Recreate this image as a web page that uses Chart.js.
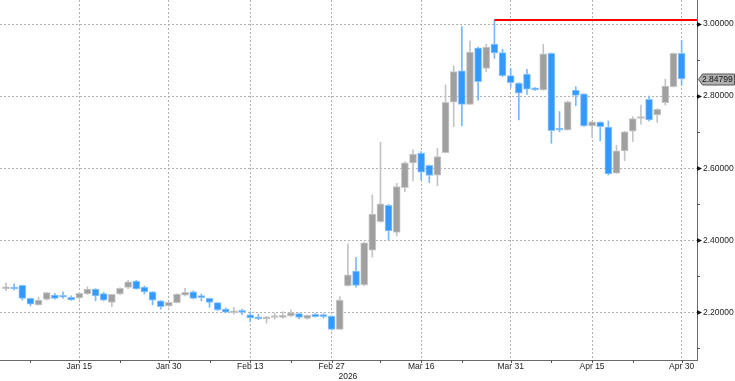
<!DOCTYPE html>
<html>
<head>
<meta charset="utf-8">
<script src="https://cdn.jsdelivr.net/npm/chart.js@4.4.1/dist/chart.umd.min.js"></script>
<style>
  html, body { margin: 0; padding: 0; background: #fff; }
  #wrap { width: 735px; height: 381px; }
</style>
</head>
<body>
<div id="wrap"><canvas id="chart"></canvas></div>
<script>
const dates = [
  'Jan 2','Jan 5','Jan 6','Jan 7','Jan 8','Jan 9','Jan 12','Jan 13','Jan 14','Jan 15','Jan 16',
  'Jan 19','Jan 20','Jan 21','Jan 22','Jan 23','Jan 26','Jan 27','Jan 28','Jan 29','Jan 30',
  'Feb 2','Feb 3','Feb 4','Feb 5','Feb 6','Feb 9','Feb 10','Feb 11','Feb 12','Feb 13',
  'Feb 16','Feb 17','Feb 18','Feb 19','Feb 20','Feb 23','Feb 24','Feb 25','Feb 26','Feb 27',
  'Mar 2','Mar 3','Mar 4','Mar 5','Mar 6','Mar 9','Mar 10','Mar 11','Mar 12','Mar 13',
  'Mar 16','Mar 17','Mar 18','Mar 19','Mar 20','Mar 23','Mar 24','Mar 25','Mar 26','Mar 27',
  'Mar 30','Mar 31','Apr 1','Apr 2','Apr 6','Apr 7','Apr 8','Apr 9','Apr 10','Apr 13',
  'Apr 14','Apr 15','Apr 16','Apr 17','Apr 20','Apr 21','Apr 22','Apr 23','Apr 24','Apr 27',
  'Apr 28','Apr 29','Apr 30'
];
const opens = [
  2.265,2.270,2.275,2.239,2.221,2.236,2.248,2.243,2.242,2.240,2.251,
  2.265,2.252,2.228,2.251,2.269,2.287,2.270,2.257,2.232,2.218,
  2.227,2.248,2.257,2.243,2.239,2.227,2.209,2.199,2.201,2.193,
  2.186,2.182,2.186,2.186,2.190,2.197,2.183,2.195,2.194,2.190,
  2.153,2.274,2.315,2.276,2.373,2.452,2.497,2.422,2.546,2.615,
  2.642,2.608,2.581,2.643,2.783,2.870,2.777,2.934,2.877,2.944,
  2.921,2.857,2.836,2.861,2.823,2.817,2.919,2.711,2.706,2.817,
  2.806,2.717,2.728,2.714,2.586,2.648,2.703,2.738,2.791,2.748,
  2.782,2.826,2.919
];
const highs = [
  2.282,2.279,2.276,2.240,2.242,2.256,2.253,2.257,2.246,2.255,2.271,
  2.266,2.256,2.251,2.268,2.290,2.289,2.273,2.258,2.233,2.229,
  2.252,2.267,2.260,2.251,2.240,2.228,2.212,2.214,2.209,2.202,
  2.195,2.189,2.198,2.202,2.207,2.198,2.193,2.197,2.197,2.191,
  2.244,2.390,2.353,2.395,2.526,2.672,2.500,2.558,2.618,2.651,
  2.646,2.609,2.655,2.831,2.884,2.993,2.953,2.936,2.944,3.011,
  2.930,2.877,2.837,2.874,2.824,2.944,2.920,2.757,2.787,2.826,
  2.807,2.731,2.729,2.731,2.664,2.702,2.743,2.775,2.800,2.765,
  2.847,2.920,2.954
];
const lows = [
  2.260,2.262,2.234,2.218,2.220,2.234,2.237,2.239,2.233,2.237,2.250,
  2.232,2.232,2.216,2.249,2.266,2.264,2.251,2.221,2.209,2.216,
  2.226,2.246,2.237,2.232,2.214,2.205,2.199,2.195,2.194,2.174,
  2.180,2.170,2.181,2.184,2.188,2.182,2.181,2.187,2.184,2.151,
  2.152,2.273,2.270,2.274,2.353,2.450,2.401,2.412,2.535,2.565,
  2.567,2.560,2.551,2.642,2.715,2.717,2.776,2.789,2.868,2.905,
  2.854,2.824,2.734,2.805,2.816,2.816,2.669,2.701,2.705,2.773,
  2.716,2.686,2.676,2.581,2.585,2.621,2.674,2.722,2.731,2.727,
  2.775,2.825,2.831
];
const closes = [
  2.271,2.265,2.239,2.223,2.234,2.255,2.239,2.242,2.235,2.253,2.265,
  2.246,2.234,2.250,2.267,2.285,2.265,2.257,2.234,2.216,2.228,
  2.251,2.256,2.239,2.241,2.228,2.207,2.201,2.203,2.200,2.185,
  2.182,2.188,2.187,2.192,2.199,2.186,2.192,2.188,2.188,2.153,
  2.234,2.304,2.275,2.393,2.473,2.501,2.426,2.549,2.615,2.639,
  2.589,2.580,2.632,2.783,2.868,2.777,2.922,2.840,2.936,2.920,
  2.857,2.837,2.808,2.819,2.817,2.917,2.704,2.706,2.784,2.802,
  2.717,2.729,2.715,2.584,2.648,2.701,2.738,2.743,2.734,2.763,
  2.828,2.919,2.84799
];

const majorDays = ['Jan 15','Jan 30','Feb 13','Feb 27','Mar 16','Mar 31','Apr 15','Apr 30'];
const minorDays = ['Jan 7','Jan 22','Feb 6','Feb 20','Mar 9','Mar 23','Apr 8','Apr 22'];
const yearLabel = '2026';
const yearLabelDay = 'Mar 3';
const priceTicks = [2.2, 2.4, 2.6, 2.8, 3.0];
const minorPriceTicks = [2.1, 2.3, 2.5, 2.7, 2.9];

const UP_FILL = '#a0a0a0', UP_EDGE = '#c8c8c8', UP_WICK = '#c4c4c4';
const DN_FILL = '#3399ff', DN_EDGE = '#8ec5ff', DN_WICK = '#77b8ff';
const FONT = { family: 'Liberation Sans, Arial, sans-serif', size: 8.5 };
const TEXT = '#222';

const majorIdx = majorDays.map(d => dates.indexOf(d));
const minorIdx = minorDays.map(d => dates.indexOf(d));
const down = closes.map((c, i) => c < opens[i]);
const peak = highs.indexOf(Math.max(...highs));
const last = closes.length - 1;

const X_MIN = -0.74, X_MAX = 84.89;

// ticks, arrows, year and last price tag
const decorations = {
  id: 'decorations',
  afterDraw(chart) {
    const { ctx, chartArea: a, scales: { x, y } } = chart;
    ctx.save();
    ctx.strokeStyle = '#555';
    ctx.lineWidth = 1;
    majorIdx.concat(minorIdx).forEach(i => {
      const px = Math.round(x.getPixelForValue(i)) + 0.5;
      ctx.beginPath(); ctx.moveTo(px, a.bottom); ctx.lineTo(px, a.bottom + 3); ctx.stroke();
    });
    minorPriceTicks.forEach(v => {
      const py = Math.round(y.getPixelForValue(v)) + 0.5;
      ctx.beginPath(); ctx.moveTo(a.right, py); ctx.lineTo(a.right + 3, py); ctx.stroke();
    });
    ctx.fillStyle = '#111';
    priceTicks.forEach(v => {
      const py = Math.round(y.getPixelForValue(v)) + 0.5;
      ctx.beginPath();
      ctx.moveTo(a.right, py - 2.5); ctx.lineTo(a.right + 5, py); ctx.lineTo(a.right, py + 2.5);
      ctx.closePath(); ctx.fill();
    });

    ctx.font = `${FONT.size}px ${FONT.family}`;
    ctx.fillStyle = TEXT;
    ctx.textAlign = 'center';
    ctx.textBaseline = 'middle';
    ctx.fillText(yearLabel, x.getPixelForValue(dates.indexOf(yearLabelDay)), 376.5);

    // last price tag
    const py = Math.round(y.getPixelForValue(closes[last])) + 0.5;
    const l = a.right + 1.5, r = 734.5;
    ctx.beginPath();
    ctx.moveTo(l, py);
    ctx.lineTo(l + 4, py - 5.5);
    ctx.lineTo(r, py - 5.5);
    ctx.lineTo(r, py + 5.5);
    ctx.lineTo(l + 4, py + 5.5);
    ctx.closePath();
    ctx.fillStyle = '#b0b0b0';
    ctx.fill();
    ctx.strokeStyle = '#555';
    ctx.stroke();
    ctx.fillStyle = '#111';
    ctx.textAlign = 'left';
    ctx.fillText(closes[last].toFixed(5), a.right + 5, py + 0.5);
    ctx.restore();
  }
};

new Chart(document.getElementById('chart'), {
  type: 'bar',
  data: {
    datasets: [
      {
        label: 'body',
        data: dates.map((d, i) => ({ x: i, y: [opens[i], closes[i]] })),
        backgroundColor: down.map(d => d ? DN_FILL : UP_FILL),
        borderColor: down.map(d => d ? DN_EDGE : UP_EDGE),
        borderWidth: 1,
        borderSkipped: false,
        barThickness: 7,
        minBarLength: 2,
        grouped: false,
        order: 1
      },
      {
        label: 'wick',
        data: dates.map((d, i) => ({ x: i, y: [lows[i], highs[i]] })),
        backgroundColor: down.map(d => d ? DN_WICK : UP_WICK),
        borderWidth: 0,
        barThickness: 1,
        grouped: false,
        order: 2
      },
      {
        type: 'line',
        label: 'high',
        data: [{ x: peak, y: highs[peak] }, { x: X_MAX, y: highs[peak] }],
        borderColor: '#ff0000',
        borderWidth: 2,
        pointRadius: 0,
        order: 0
      }
    ]
  },
  options: {
    responsive: true,
    maintainAspectRatio: false,
    animation: false,
    layout: { padding: 0 },
    plugins: { legend: { display: false }, tooltip: { enabled: false } },
    scales: {
      x: {
        type: 'linear',
        min: X_MIN,
        max: X_MAX,
        offset: false,
        afterBuildTicks: s => { s.ticks = majorIdx.map(v => ({ value: v })); },
        afterFit: s => { s.height = 21; s.paddingLeft = 0; s.paddingRight = 0; },
        ticks: { autoSkip: false, maxRotation: 0, padding: 2, font: FONT, color: TEXT,
                 callback: v => dates[v] },
        grid: { offset: false, drawTicks: false, color: '#b0b0b0' },
        border: { color: '#6a6a6a', dash: [2, 2] }
      },
      y: {
        type: 'linear',
        position: 'right',
        min: 2.068,
        max: 3.0666,
        afterBuildTicks: s => { s.ticks = priceTicks.map(v => ({ value: v })); },
        afterFit: s => { s.width = 38; s.paddingTop = 0; s.paddingBottom = 0; },
        ticks: { padding: 6, font: FONT, color: TEXT, callback: v => v.toFixed(5) },
        grid: { drawTicks: false, color: '#b0b0b0' },
        border: { color: '#6a6a6a', dash: [2, 2] }
      }
    }
  },
  plugins: [decorations]
});
</script>
</body>
</html>
